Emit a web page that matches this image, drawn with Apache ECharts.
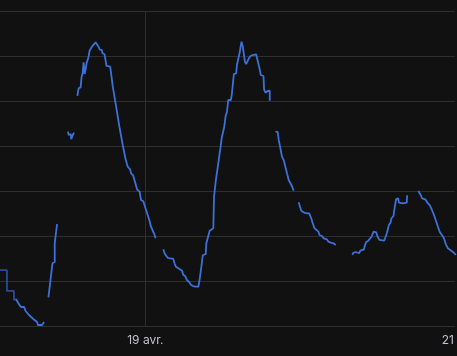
<!DOCTYPE html>
<html>
<head>
<meta charset="utf-8">
<script src="https://cdn.jsdelivr.net/npm/echarts@6/dist/echarts.min.js"></script>
<style>
html,body{margin:0;padding:0;background:#111111;}
#chart{width:457px;height:356px;}
</style>
</head>
<body>
<div id="chart"></div>
<script>
// hours since 18 avr. 00:00
const dimHours  = [0.5, 2.05, 2.05, 3.16, 3.16, 3.47];
const dimValues = [11.2, 11.2, 8.9, 8.9, 7.9, 8.0];

// main series; null = gap in data
const hours = [
  3.47,3.84,4.26,4.78,5.0,5.42,5.89,6.21,6.42,6.84,6.95,7.63,7.79,7.95,
  8.3,
  8.63,9.27,9.63,9.63,10.0,
  11.0,
  11.73,11.84,12.16,12.26,12.42,12.63,12.68,
  13.0,
  13.22,13.42,13.74,13.89,14.05,14.21,14.37,14.53,14.68,15.0,15.16,15.47,15.79,16.11,16.42,16.58,16.78,17.1,17.21,17.53,17.68,17.84,18.43,18.84,19.37,19.89,20.42,20.84,21.21,21.58,21.74,22.06,22.42,22.69,23.1,23.32,23.68,24.21,24.63,24.9,25.15,25.42,25.63,
  26.2,
  26.84,27.11,27.36,27.58,27.9,28.15,28.42,28.63,28.85,29.16,29.48,29.84,30.0,30.32,30.58,30.95,31.26,31.58,32.0,32.42,32.64,32.89,33.11,33.59,33.68,33.95,34.21,34.47,34.79,34.9,35.16,35.42,35.68,35.95,36.11,36.36,36.52,36.74,36.95,37.16,37.58,37.74,38.0,38.05,38.42,38.53,38.84,38.95,39.16,39.27,39.47,39.79,40.0,40.26,40.42,40.69,41.05,41.58,41.73,42.11,42.32,42.74,42.84,43.06,43.42,43.74,43.74,
  44.2,
  44.64,45.0,45.16,45.43,45.68,45.95,46.22,46.47,46.74,47.01,47.26,47.53,
  47.9,
  48.32,48.58,48.74,49.0,49.22,49.37,49.63,50.0,50.32,50.53,50.84,51.11,51.47,51.63,52.0,52.31,52.79,53.05,53.42,53.84,54.21,
  55.5,
  56.84,57.0,57.37,57.63,57.9,58.11,58.42,58.69,58.85,59.05,59.37,59.68,59.89,60.21,60.43,60.63,60.84,61.16,61.47,61.9,62.21,62.32,62.53,62.64,62.89,63.05,63.37,63.47,63.68,63.79,64.11,64.22,64.9,65.48,65.53,
  66.4,
  67.31,67.69,67.9,68.42,68.74,69.11,69.47,69.79,70.16,70.42,70.69,71.05,71.37,71.68,72.0,72.53,72.95,73.26
];
const values = [
  8.0,7.56,7.11,7.11,6.67,6.33,6.0,5.78,5.56,5.44,5.11,5.11,5.33,5.44,
  null,
  8.19,11.97,12.11,14.22,16.33,
  null,
  26.59,26.22,26.33,25.74,26.11,25.97,26.48,
  null,
  30.56,31.41,31.52,32.7,33.08,34.3,33.0,33.52,34.19,34.92,35.59,35.97,36.26,36.52,36.48,36.03,35.7,35.67,35.3,35.19,34.56,33.89,33.81,31.59,29.37,27.14,25.11,23.63,22.7,22.41,21.97,21.74,20.86,20.19,19.89,19.0,18.86,17.7,16.78,16.03,15.92,15.22,14.74,
  null,
  13.52,13.0,12.89,12.56,12.52,12.33,12.48,11.97,11.59,11.37,11.3,11.14,10.7,10.56,10.11,9.89,9.56,9.44,9.37,9.37,10.3,11.59,12.86,13.0,14.19,14.26,15.59,15.81,15.86,19.37,21.03,22.33,23.63,24.92,25.86,25.67,27.14,28.33,28.81,30.11,30.11,30.86,30.86,33.0,33.08,34.0,34.08,35.3,36.22,36.59,36.03,34.37,34.11,34.26,34.74,35.0,35.11,35.19,35.0,33.63,32.89,32.78,31.3,30.92,31.11,31.14,30.03,
  null,
  26.59,26.56,25.67,24.74,23.81,23.44,22.7,21.97,21.22,21.03,20.56,20.03,
  null,
  18.74,18.56,17.81,17.63,17.59,17.41,17.52,17.52,16.97,16.48,15.86,15.67,15.48,15.11,15.0,14.74,14.63,14.37,14.26,14.19,14.0,
  null,
  12.89,13.14,13.22,13.08,13.08,13.37,13.44,13.52,14.0,14.33,14.48,14.44,14.92,15.48,15.67,15.41,14.92,14.56,14.48,14.48,14.7,15.3,15.44,16.22,16.48,16.97,17.22,17.81,17.89,19.11,19.19,18.7,18.63,18.7,19.52,
  null,
  20.0,19.56,19.19,19.08,18.7,18.44,17.89,17.33,16.59,16.03,15.48,15.11,14.74,14.08,13.63,13.37,13.14,12.89
];

const rangeStartHour = 0.947;
const rangeEndHour = 73.105;
const gridLineHours = [24];          // vertical grid line (19 avr.)
const labelHours = [24, 72];         // 19 avr., 21 avr.
const labelTexts = ['19 avr.', '21'];
const yMin = 5, yMax = 40, yStep = 5;

const dimData = dimHours.map((h, i) => [h, dimValues[i]]);
const mainData = hours.map((h, i) => [h, values[i]]);

const chart = echarts.init(document.getElementById('chart'), null, {renderer: 'canvas'});
chart.setOption({
  backgroundColor: '#111111',
  animation: false,
  grid: {left: 0, right: 0, top: 11, bottom: 30, containLabel: false},
  xAxis: {
    type: 'value',
    min: rangeStartHour,
    max: rangeEndHour,
    axisLine: {show: false},
    axisTick: {show: false, customValues: gridLineHours},
    axisLabel: {
      customValues: labelHours,
      color: 'rgba(214,214,226,0.9)',
      fontFamily: 'Inter',
      fontSize: 12,
      margin: 8,
      showMinLabel: true,
      showMaxLabel: true,
      hideOverlap: false,
      formatter: function (v) {
        let best = 0, bd = Infinity;
        labelHours.forEach((lh, i) => { const d = Math.abs(lh - v); if (d < bd) { bd = d; best = i; } });
        return labelTexts[best];
      }
    },
    splitLine: {show: true, lineStyle: {color: '#2e2e2e', width: 1}}
  },
  yAxis: {
    type: 'value',
    min: yMin, max: yMax, interval: yStep,
    axisLine: {show: false},
    axisTick: {show: false},
    axisLabel: {show: false},
    splitLine: {show: true, lineStyle: {color: '#2e2e2e', width: 1}}
  },
  series: [
    {
      type: 'line', data: dimData, showSymbol: false, symbol: 'none',
      lineStyle: {color: '#2a4c92', width: 1.8}, connectNulls: false
    },
    {
      type: 'line', data: mainData, showSymbol: false, symbol: 'none',
      lineStyle: {color: '#3d71d9', width: 1.8}, connectNulls: false
    }
  ]
});
</script>
</body>
</html>
